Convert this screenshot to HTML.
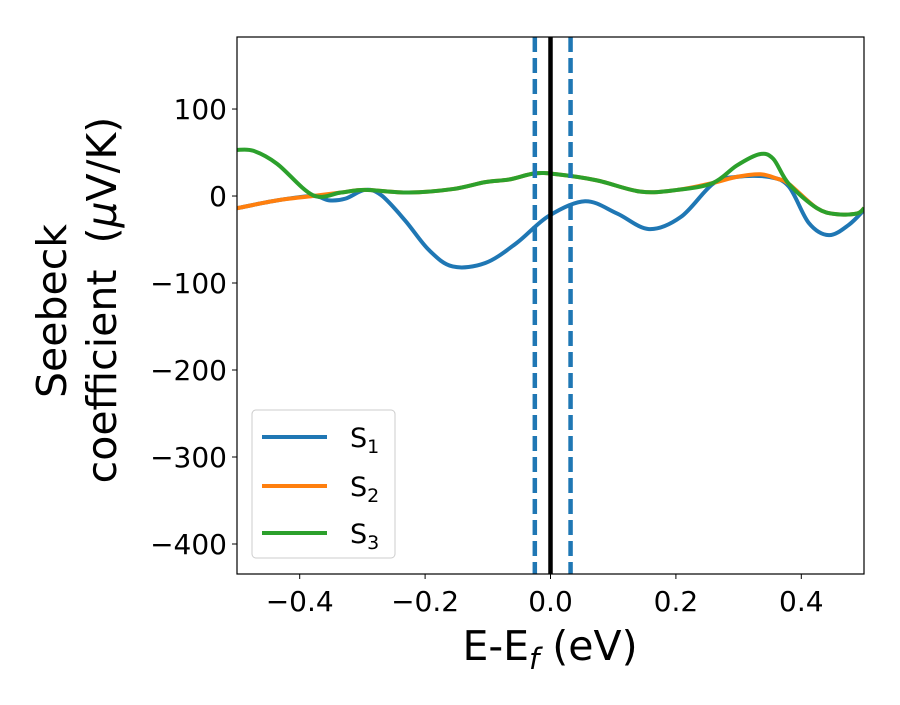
<!DOCTYPE html>
<html><head><meta charset="utf-8"><style>
body{margin:0;background:#fff}
svg text{font-family:"DejaVu Sans","Liberation Sans",sans-serif;fill:#000}
</style></head><body>
<svg id="chart" width="900" height="700">
<rect width="900" height="700" fill="#fff"/>
<g id="plot"></g>
</svg>
<script>
const s1x=[-0.5,-0.436,-0.379,-0.353,-0.327,-0.296,-0.270,-0.232,-0.194,-0.156,-0.104,-0.054,-0.003,0.055,0.106,0.157,0.208,0.259,0.297,0.348,0.380,0.412,0.444,0.476,0.5];
const s1y=[-14,-5,0,-5,-3,7,1,-28,-62,-81,-77,-54,-23,-6,-20,-38,-24,14,22,22,11,-31,-45,-33,-16];
const s2x=[-0.5,-0.436,-0.379,-0.334,-0.296,-0.226,-0.156,-0.104,-0.066,-0.025,0.010,0.074,0.144,0.202,0.259,0.297,0.335,0.361,0.380,0.425,0.457,0.489,0.5];
const s2y=[-14,-5,0,4,7,4,8,16,19,26,25,18,5,7,15,22,25,20,14,-14,-21,-20,-14];
const s3x=[-0.5,-0.474,-0.436,-0.379,-0.334,-0.296,-0.226,-0.156,-0.104,-0.066,-0.025,0.010,0.074,0.144,0.202,0.259,0.297,0.333,0.355,0.380,0.425,0.457,0.489,0.5];
const s3y=[53,52,37,1,4,7,4,8,16,19,26,25,18,5,7,15,35,48,43,14,-14,-21,-20,-14];
const xTicks=[-0.4,-0.2,0.0,0.2,0.4];
const xTickLabels=["\u22120.4","\u22120.2","0.0","0.2","0.4"];
const yTicks=[100,0,-100,-200,-300,-400];
const yTickLabels=["100","0","\u2212100","\u2212200","\u2212300","\u2212400"];
const vLines=[-0.025,0.0,0.032];

const L=237,R=864,T=37,B=574,xmin=-0.5,xmax=0.5,ymin=-434.5,ymax=182.8;
const sx=v=>L+(v-xmin)/(xmax-xmin)*(R-L);
const sy=v=>B-(v-ymin)/(ymax-ymin)*(B-T);
const NS="http://www.w3.org/2000/svg";
const g=document.getElementById('plot');
function mk(tag,attrs,parent){const e=document.createElementNS(NS,tag);for(const k in attrs)e.setAttribute(k,attrs[k]);(parent||g).appendChild(e);return e;}
const clip=mk('clipPath',{id:'cp'});mk('rect',{x:L,y:T,width:R-L,height:B-T},clip);
function path(xs,ys){const p=xs.map((x,i)=>[sx(x),sy(ys[i])]);let d='M'+p[0][0]+','+p[0][1];
for(let i=0;i<p.length-1;i++){const p0=p[Math.max(i-1,0)],p1=p[i],p2=p[i+1],p3=p[Math.min(i+2,p.length-1)];
d+=' C'+(p1[0]+(p2[0]-p0[0])/6)+','+(p1[1]+(p2[1]-p0[1])/6)+' '+(p2[0]-(p3[0]-p1[0])/6)+','+(p2[1]-(p3[1]-p1[1])/6)+' '+p2[0]+','+p2[1];}return d;}
const series=[[s1x,s1y,'#1f77b4','series-s1'],[s2x,s2y,'#ff7f0e','series-s2'],[s3x,s3y,'#2ca02c','series-s3']];
series.forEach(s=>{const e=mk('path',{d:path(s[0],s[1]),fill:'none',stroke:s[2],'stroke-width':4,'clip-path':'url(#cp)'});

});
vLines.forEach((v,i)=>{const e=mk('line',{x1:sx(v),x2:sx(v),y1:T,y2:B,stroke:i==1?'#000':'#1f77b4','stroke-width':4.5,'stroke-dasharray':i==1?'none':'15,6'});

});
const fr=mk('rect',{x:L,y:T,width:R-L,height:B-T,fill:'none',stroke:'#000','stroke-width':1.2});


xTicks.forEach((v,i)=>{mk('line',{x1:sx(v),x2:sx(v),y1:B,y2:B+5,stroke:'#000','stroke-width':1});
const t=mk('text',{x:sx(v),y:B+37,'text-anchor':'middle','font-size':28});t.textContent=xTickLabels[i];

});
yTicks.forEach((v,i)=>{mk('line',{x1:L-5,x2:L,y1:sy(v),y2:sy(v),stroke:'#000','stroke-width':1});
const t=mk('text',{x:L-10,y:sy(v)+10,'text-anchor':'end','font-size':28});t.textContent=yTickLabels[i];

});
</script>
<svg style="position:absolute;left:0;top:0" width="900" height="700">
<text x="550" y="660" text-anchor="middle" font-size="41">E-E<tspan font-size="29" font-style="italic" dy="9">f</tspan><tspan dy="-9"> (eV)</tspan></text>
<g>
<text transform="translate(66,311) rotate(-90)" text-anchor="middle" font-size="41">Seebeck</text>
<text transform="translate(116,300) rotate(-90)" text-anchor="middle" font-size="41">coefficient&#160;&#160;(<tspan font-style="italic">μ</tspan>V/K)</text>
</g>
<g>
<rect x="252" y="410" width="143" height="148" rx="4" fill="#fff" fill-opacity="0.8" stroke="#ccc"/>
<g><line x1="262" x2="327" y1="437" y2="437" stroke="#1f77b4" stroke-width="4"/><text x="350" y="447" font-size="27">S<tspan font-size="19" dy="6">1</tspan></text></g>
<g><line x1="262" x2="327" y1="486" y2="486" stroke="#ff7f0e" stroke-width="4"/><text x="350" y="496" font-size="27">S<tspan font-size="19" dy="6">2</tspan></text></g>
<g><line x1="262" x2="327" y1="533" y2="533" stroke="#2ca02c" stroke-width="4"/><text x="350" y="543" font-size="27">S<tspan font-size="19" dy="6">3</tspan></text></g>
</g>
</svg>
</body></html>
